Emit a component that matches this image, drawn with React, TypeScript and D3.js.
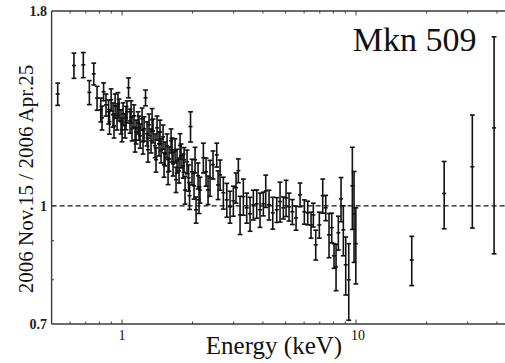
import React from "react";
import * as d3 from "d3";

const energy = [
  0.531, 0.623, 0.683, 0.725, 0.757, 0.782, 0.811, 0.834, 0.854, 0.876,
  0.898, 0.915, 0.934, 0.952, 0.971, 0.99, 1.01, 1.03, 1.05, 1.066,
  1.082, 1.103, 1.125, 1.148, 1.171, 1.194, 1.218, 1.242, 1.26, 1.279,
  1.304, 1.33, 1.357, 1.384, 1.411, 1.439, 1.468, 1.497, 1.527, 1.557,
  1.588, 1.62, 1.652, 1.685, 1.718, 1.752, 1.787, 1.823, 1.859, 1.896,
  1.924, 1.962, 1.991, 2.031, 2.072, 2.113, 2.154, 2.226, 2.286, 2.377,
  2.448, 2.539, 2.624, 2.71, 2.803, 2.894, 2.99, 3.07, 3.141, 3.194,
  3.299, 3.411, 3.524, 3.64, 3.764, 3.888, 4.016, 4.112, 4.248, 4.406,
  4.583, 4.734, 4.891, 5.023, 5.173, 5.344, 5.542, 5.764, 6.013, 6.217,
  6.422, 6.569, 6.726, 6.969, 7.206, 7.421, 7.666, 7.873, 8.054, 8.214,
  8.402, 8.628, 8.825, 9.036, 9.308, 9.643, 9.806, 9.98,
  17.3, 23.8, 31.4, 38.9,
  0.821, 0.884, 0.924, 0.961, 1.0, 1.04, 1.093, 1.137, 1.182, 1.229,
  1.291, 1.344, 1.397, 1.453, 1.512, 1.573, 1.636, 1.701, 1.77, 1.841,
  1.943, 2.051, 2.133, 2.331, 2.572,
];

const ratio = [
  1.401, 1.527, 1.53, 1.408, 1.489, 1.384, 1.336, 1.411, 1.356, 1.328,
  1.377, 1.316, 1.352, 1.304, 1.336, 1.289, 1.32, 1.273, 1.328, 1.428,
  1.292, 1.262, 1.312, 1.25, 1.285, 1.235, 1.3, 1.262, 1.385, 1.243,
  1.277, 1.217, 1.254, 1.199, 1.265, 1.206, 1.181, 1.231, 1.17, 1.199,
  1.152, 1.217, 1.135, 1.181, 1.145, 1.111, 1.163, 1.128, 1.049, 1.142,
  1.088, 1.27, 1.108, 1.062, 0.988, 1.095, 1.049, 1.156, 1.108, 1.088,
  1.132, 1.166, 1.098, 1.04, 1.018, 0.997, 1.015, 1.056, 1.112, 0.973,
  1.028, 0.994, 0.976, 1.003, 1.006, 0.988, 1.006, 1.046, 1.003, 0.979,
  0.988, 1.013, 0.994, 1.024, 0.997, 0.982, 0.964, 1.034, 0.982, 0.979,
  0.944, 0.973, 0.889, 0.944, 1.031, 0.994, 0.916, 0.936, 0.86, 0.832,
  0.922, 1.021, 0.93, 0.837, 0.8, 1.062, 0.976, 0.892,
  0.849, 1.038, 1.125, 1.265,
  1.304, 1.289, 1.273, 1.36, 1.258, 1.304, 1.328, 1.22, 1.265, 1.213,
  1.184, 1.296, 1.149, 1.25, 1.132, 1.108, 1.184, 1.082, 1.199, 1.149,
  1.031, 1.149, 1.018, 1.049, 1.065,
];

const errors = [
  0.047, 0.058, 0.058, 0.051, 0.049, 0.05, 0.048, 0.038, 0.045, 0.048,
  0.046, 0.048, 0.049, 0.047, 0.044, 0.047, 0.044, 0.046, 0.044, 0.043,
  0.047, 0.046, 0.044, 0.045, 0.043, 0.045, 0.043, 0.046, 0.033, 0.045,
  0.042, 0.044, 0.045, 0.043, 0.046, 0.044, 0.043, 0.045, 0.042, 0.043,
  0.042, 0.044, 0.041, 0.043, 0.041, 0.04, 0.042, 0.041, 0.044, 0.041,
  0.043, 0.058, 0.043, 0.042, 0.039, 0.043, 0.041, 0.052, 0.047, 0.059,
  0.048, 0.042, 0.05, 0.05, 0.052, 0.048, 0.046, 0.048, 0.04, 0.056,
  0.056, 0.045, 0.05, 0.045, 0.043, 0.051, 0.036, 0.051, 0.045, 0.047,
  0.037, 0.061, 0.033, 0.056, 0.042, 0.037, 0.035, 0.037, 0.036, 0.035,
  0.037, 0.035, 0.04, 0.037, 0.053, 0.038, 0.061, 0.042, 0.032, 0.058,
  0.047, 0.068, 0.07, 0.073, 0.092, 0.131, 0.133, 0.102,
  0.063, 0.105, 0.19, 0.4,
  0.047, 0.048, 0.046, 0.047, 0.045, 0.046, 0.045, 0.044, 0.046, 0.044,
  0.043, 0.045, 0.042, 0.045, 0.042, 0.042, 0.043, 0.041, 0.044, 0.043,
  0.042, 0.044, 0.041, 0.045, 0.046,
];

const xMajorTicks = [1, 10];
const xMinorTicks = [0.6, 0.7, 0.8, 0.9, 2, 3, 4, 5, 6, 7, 8, 9, 20, 30, 40];
const yLabelTicks = [0.7, 1, 1.8];
const yMinorTicks = [0.8, 0.9];
const refLevel = 1;

const W = 505;
const H = 363;
const FONT = "'Liberation Serif', 'Times New Roman', serif";
const AXIS = "#3a3a3a";

export default function App() {
  const x = d3.scaleLog().domain([0.5, 90]).range([51.6, 51.6 + 234 * Math.log10(180)]);
  const y = d3.scaleLog().domain([0.7, 1.8]).range([324, 11]);
  const x0 = x(0.5);
  const y0 = y(0.7);
  const yTop = y(1.8);
  const xRight = W;

  const pts = energy.map((e, i) => ({ e, r: ratio[i], s: errors[i] }));

  return (
    <svg
      width={W}
      height={H}
      style={{ position: "absolute", left: 0, top: 0, background: "#fff" }}
      fontFamily={FONT}
    >
      <rect x={0} y={0} width={W} height={H} fill="#fff" />
      <line
        x1={x0}
        x2={xRight}
        y1={y(refLevel)}
        y2={y(refLevel)}
        stroke="#111"
        strokeWidth={1.3}
        strokeDasharray="5,3"
      />
      <g stroke="#111" strokeWidth={1.6} fill="none">
        {pts.map((p, i) => {
          const cx = x(p.e);
          const yt = y(p.r + p.s);
          const yb = y(p.r - p.s);
          const yc = y(p.r);
          return (
            <g key={i}>
              <line x1={cx} x2={cx} y1={yt} y2={yb} />
              <line x1={cx - 2.4} x2={cx + 2.4} y1={yt} y2={yt} />
              <line x1={cx - 2.4} x2={cx + 2.4} y1={yb} y2={yb} />
              <line x1={cx - 2} x2={cx + 2} y1={yc} y2={yc} />
            </g>
          );
        })}
      </g>
      <g stroke={AXIS} strokeWidth={1.4} fill="none">
        <line x1={x0} x2={xRight} y1={y0} y2={y0} />
        <line x1={x0} x2={xRight} y1={yTop} y2={yTop} />
        <line x1={x0} x2={x0} y1={yTop} y2={y0} />
      </g>
      <g stroke={AXIS} strokeWidth={1}>
        {xMajorTicks.map((t) => (
          <g key={"M" + t}>
            <line x1={x(t)} x2={x(t)} y1={y0} y2={y0 - 4.5} />
            <line x1={x(t)} x2={x(t)} y1={yTop} y2={yTop + 4.5} />
          </g>
        ))}
        {xMinorTicks.map((t) => (
          <g key={"m" + t}>
            <line x1={x(t)} x2={x(t)} y1={y0} y2={y0 - 2.5} />
            <line x1={x(t)} x2={x(t)} y1={yTop} y2={yTop + 2.5} />
          </g>
        ))}
        {yMinorTicks.map((t) => (
          <line key={"ym" + t} x1={x0} x2={x0 + 2.5} y1={y(t)} y2={y(t)} />
        ))}
        <line x1={x0} x2={x0 + 4} y1={y(1)} y2={y(1)} />
      </g>
      <g fontSize={14} fontWeight="bold" fill="#222" textAnchor="end">
        {yLabelTicks.map((t) => (
          <text key={"yl" + t} x={47} y={y(t) + 5}>
            {String(t)}
          </text>
        ))}
      </g>
      <g fontSize={14} fill="#111" textAnchor="middle">
        {xMajorTicks.map((t) => (
          <text key={"xl" + t} x={x(t) + (t === 10 ? 2 : 0)} y={340}>
            {String(t)}
          </text>
        ))}
      </g>
      <text x={274} y={354} fontSize={25} textAnchor="middle" fill="#111">
        Energy (keV)
      </text>
      <text
        transform={`translate(33,179) rotate(-90)`}
        fontSize={21}
        textAnchor="middle"
        fill="#111"
      >
        2006 Nov.15 / 2006 Apr.25
      </text>
      <text x={352.7} y={51} fontSize={34} fill="#111">
        Mkn 509
      </text>
    </svg>
  );
}
